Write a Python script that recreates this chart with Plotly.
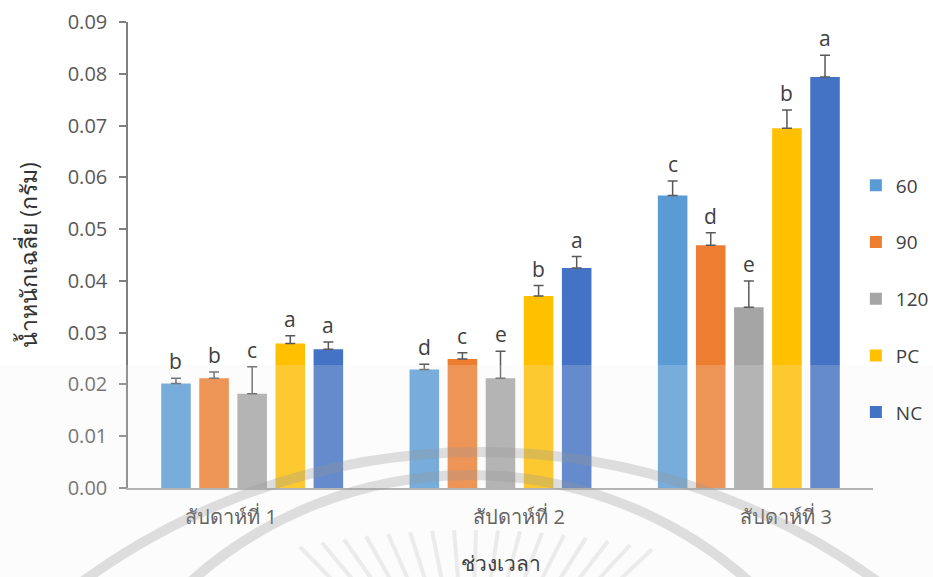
import math
import plotly.graph_objects as go

# Mean weight per week and treatment
weeks = ["สัปดาห์ที่ 1", "สัปดาห์ที่ 2", "สัปดาห์ที่ 3"]
series_names = ["60", "90", "120", "PC", "NC"]
colors = ["#5B9BD5", "#ED7D31", "#A5A5A5", "#FFC000", "#4472C4"]

mean_60 = [0.0202, 0.0229, 0.0565]
mean_90 = [0.0212, 0.0249, 0.0469]
mean_120 = [0.0182, 0.0212, 0.0349]
mean_pc = [0.0279, 0.0371, 0.0695]
mean_nc = [0.0268, 0.0425, 0.0794]

sd_60 = [0.0010, 0.0010, 0.0028]
sd_90 = [0.0012, 0.0012, 0.0024]
sd_120 = [0.0052, 0.0052, 0.0051]
sd_pc = [0.0015, 0.0020, 0.0035]
sd_nc = [0.0014, 0.0022, 0.0042]

# Significance letters (per week, per treatment)
letters_60 = ["b", "d", "c"]
letters_90 = ["b", "c", "d"]
letters_120 = ["c", "e", "e"]
letters_pc = ["a", "b", "b"]
letters_nc = ["a", "a", "a"]

y_ticks = [0.00, 0.01, 0.02, 0.03, 0.04, 0.05, 0.06, 0.07, 0.08, 0.09]

means = [mean_60, mean_90, mean_120, mean_pc, mean_nc]
sds = [sd_60, sd_90, sd_120, sd_pc, sd_nc]
letters = [letters_60, letters_90, letters_120, letters_pc, letters_nc]

FONT = "Open Sans, Noto Sans, sans-serif"
W, H = 933, 577
ML, MR, MT, MB = 128, 60, 22, 89
slot = 0.1534      # spacing between bars within a week group
bar_w = 0.119
label_pos = [-0.085, 1.075, 2.15]   # week labels sit slightly off the group centres

fig = go.Figure()
annotations = []
for i, name in enumerate(series_names):
    xs = [g + (i - 2) * slot for g in range(len(weeks))]
    fig.add_trace(go.Bar(
        x=xs, y=means[i], width=bar_w, name=name,
        marker=dict(color=colors[i], line=dict(width=0)),
        error_y=dict(type="data", array=sds[i], symmetric=False,
                     arrayminus=[0] * len(weeks), color="#595959",
                     thickness=1.5, width=5),
        legendgroup=name,
    ))
    for x, m, s, t in zip(xs, means[i], sds[i], letters[i]):
        annotations.append(dict(
            x=x, y=m + s, text=t, showarrow=False, yanchor="bottom",
            yshift=1, font=dict(size=21, color="#404040", family=FONT)))

fig.update_layout(
    width=W, height=H,
    margin=dict(l=ML, r=MR, t=MT, b=MB, autoexpand=False),
    paper_bgcolor="white", plot_bgcolor="white",
    barmode="overlay",
    font=dict(family=FONT, color="#595959"),
    showlegend=True,
    legend=dict(x=0.977, xanchor="left", y=0.69, yanchor="top",
                font=dict(size=19, color="#404040"),
                tracegroupgap=29, itemwidth=30,
                bgcolor="rgba(0,0,0,0)"),
    annotations=annotations,
    xaxis=dict(
        range=[-0.5, 2.5], tickvals=label_pos, ticktext=weeks,
        showline=True, linecolor="#A6A6A6", linewidth=1.5,
        ticks="", showgrid=False, zeroline=False,
        ticklabelstandoff=10,
        tickfont=dict(size=20, color="#404040"),
        title=dict(text="ช่วงเวลา", font=dict(size=21, color="#404040"), standoff=30),
    ),
    yaxis=dict(
        range=[0, 0.09], tickvals=y_ticks, tickformat=".2f",
        showline=True, linecolor="#7F7F7F", linewidth=1.5,
        ticks="outside", ticklen=7, tickcolor="#7F7F7F", tickwidth=1.5,
        showgrid=False, zeroline=False, ticklabelstandoff=8,
        tickfont=dict(size=20, color="#595959"),
        title=dict(text="น้ำหนักเฉลี่ย (กรัม)", font=dict(size=23, color="#333333"), standoff=24),
    ),
)


def px(x):
    return (x - ML) / (W - ML - MR)


def py(y):
    return (H - MB - y) / (H - MT - MB)


# Faint seal printed behind the lower part of the page: two rings and rays
arc_style = dict(color="rgba(130,130,130,0.30)", width=10)
for cx, cy, r in [(480, 1126, 674), (470, 894, 419)]:
    fig.add_shape(type="circle", xref="paper", yref="paper",
                  x0=px(cx - r), x1=px(cx + r), y0=py(cy + r), y1=py(cy - r),
                  line=arc_style, fillcolor="rgba(0,0,0,0)", layer="above")

ray_cx, ray_cy = 470, 720
for xt in range(300, 660, 22):
    yt = 530 + 0.000586 * (xt - 470) ** 2
    dx, dy = ray_cx - xt, ray_cy - yt
    L = math.hypot(dx, dy)
    xe, ye = xt + dx / L * 80, yt + dy / L * 80
    fig.add_shape(type="line", xref="paper", yref="paper",
                  x0=px(xt), y0=py(yt), x1=px(xe), y1=py(ye),
                  line=dict(color="rgba(150,150,150,0.2)", width=4), layer="above")

# Soft light band across the lower part of the figure
fig.add_shape(type="rect", xref="paper", yref="paper",
              x0=px(0), x1=px(W), y0=py(H), y1=py(365),
              fillcolor="rgba(240,240,240,0.2)", line=dict(width=0), layer="above")

fig.write_html("out.html")
